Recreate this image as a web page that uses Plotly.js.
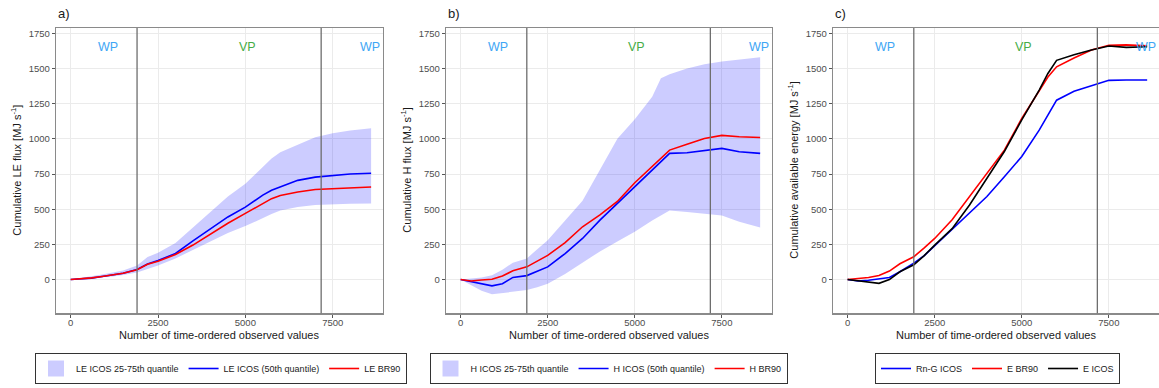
<!DOCTYPE html>
<html>
<head>
<meta charset="utf-8">
<script src="https://cdn.plot.ly/plotly-3.0.1.min.js"></script>
<style>html,body{margin:0;padding:0;background:#fff;}#chart{width:1159px;height:388px;}</style>
</head>
<body>
<div id="chart"></div>
<script>
// ---------------- DATA ----------------
const xObs = [0, 300, 600, 900, 1200, 1500, 1900, 2200, 2500, 3000, 3500, 4000, 4500, 5000, 5500, 5750, 6000, 6500, 7000, 7500, 8000, 8600];

// Panel a: LE
const leQ25 = [0, 5, 10, 14, 22, 32, 50, 75, 100, 150, 210, 270, 330, 380, 440, 465, 490, 515, 530, 535, 538, 540];
const leQ75 = [0, 10, 20, 35, 50, 65, 100, 160, 190, 260, 370, 480, 590, 680, 800, 860, 905, 960, 1012, 1040, 1060, 1075];
const leQ50 = [0, 5, 10, 22, 32, 45, 72, 110, 135, 185, 275, 360, 445, 515, 600, 635, 660, 705, 728, 737, 750, 755];
const leBR90 = [0, 5, 12, 22, 32, 45, 70, 108, 130, 178, 245, 325, 400, 470, 540, 575, 598, 622, 640, 645, 650, 658];

// Panel b: H
const hQ25 = [0, -40, -80, -105, -95, -85, -75, -55, -30, 40, 120, 200, 270, 340, 420, 455, 490, 480, 465, 455, 410, 370];
const hQ75 = [0, 5, 15, 30, 70, 120, 150, 215, 280, 420, 560, 780, 1000, 1140, 1300, 1430, 1460, 1500, 1530, 1550, 1565, 1580];
const hQ50 = [0, -15, -30, -45, -30, 15, 28, 60, 90, 185, 292, 422, 540, 660, 778, 840, 897, 901, 915, 932, 908, 897];
const hBR90 = [0, -10, -3, 2, 25, 62, 90, 130, 172, 262, 375, 460, 555, 688, 802, 860, 920, 962, 1003, 1025, 1015, 1010];

// Panel c: available energy
const rnG = [0, -10, -5, 5, 15, 55, 117, 170, 240, 352, 472, 590, 730, 875, 1062, 1170, 1275, 1338, 1378, 1416, 1418, 1418];
const eBR90 = [0, 5, 15, 28, 60, 112, 162, 225, 292, 425, 592, 756, 920, 1145, 1340, 1440, 1512, 1575, 1632, 1665, 1668, 1662];
const eICOS = [0, -10, -20, -27, 0, 55, 105, 170, 245, 362, 530, 720, 910, 1135, 1347, 1465, 1558, 1598, 1632, 1660, 1650, 1655];

// Period boundaries and labels
const periodBounds = [1900, 7170];
const periodLabels = ["WP", "VP", "WP"];
const periodLabelX = [1070, 5050, 8580];
const periodLabelY = 1650;

const xTicks = [0, 2500, 5000, 7500];
const yTicks = [0, 250, 500, 750, 1000, 1250, 1500, 1750];
const panelTitles = ["a)", "b)", "c)"];
const yTitles = ["Cumulative LE flux [MJ s<sup>-1</sup>]", "Cumulative H flux [MJ s<sup>-1</sup>]", "Cumulative available energy [MJ s<sup>-1</sup>]"];
const xTitle = "Number of time-ordered observed values";

// ---------------- LAYOUT ----------------
const W = 1159, H = 388;
const FONT = "Liberation Sans, Arial, sans-serif";
const panels = [
  {l: 56, r: 383},
  {l: 446, r: 772},
  {l: 833, r: 1159}
];
const pTop = 28, pBot = 313.3;
const ribbonColor = "rgba(0,0,255,0.2)";
const WPcol = "#3ea6f5", VPcol = "#46ad46";

const traces = [];
function ribbon(lo, hi, name, xa, ya, lg) {
  traces.push({x: xObs, y: lo, xaxis: xa, yaxis: ya, mode: "lines", line: {width: 0, color: ribbonColor},
               showlegend: false, hoverinfo: "skip", legend: lg});
  traces.push({x: xObs, y: hi, xaxis: xa, yaxis: ya, mode: "lines", line: {width: 0, color: ribbonColor},
               fill: "tonexty", fillcolor: ribbonColor, showlegend: false, legend: lg});
  // legend key only (square swatch like ggplot ribbon key)
  traces.push({x: [null], y: [null], xaxis: xa, yaxis: ya, mode: "markers",
               marker: {symbol: "square", size: 16, color: ribbonColor, line: {width: 0}},
               name: name, legend: lg});
}
function line(y, name, color, xa, ya, lg) {
  traces.push({x: xObs, y: y, xaxis: xa, yaxis: ya, mode: "lines", line: {width: 1.6, color: color},
               name: name, legend: lg});
}
ribbon(leQ25, leQ75, "LE ICOS 25-75th quantile", "x", "y", "legend");
line(leQ50, "LE ICOS (50th quantile)", "#0000ff", "x", "y", "legend");
line(leBR90, "LE BR90", "#ff0000", "x", "y", "legend");
ribbon(hQ25, hQ75, "H ICOS 25-75th quantile", "x2", "y2", "legend2");
line(hQ50, "H ICOS (50th quantile)", "#0000ff", "x2", "y2", "legend2");
line(hBR90, "H BR90", "#ff0000", "x2", "y2", "legend2");
line(rnG, "Rn-G ICOS", "#0000ff", "x3", "y3", "legend3");
line(eBR90, "E BR90", "#ff0000", "x3", "y3", "legend3");
line(eICOS, "E ICOS", "#000000", "x3", "y3", "legend3");

const layout = {
  width: W, height: H,
  margin: {l: 0, r: 0, t: 0, b: 0},
  paper_bgcolor: "#fff", plot_bgcolor: "#fff",
  font: {family: FONT, size: 10, color: "#1a1a1a"},
  shapes: [], annotations: []
};

const yDomain = [1 - pBot / H, 1 - pTop / H];
panels.forEach((p, i) => {
  const sfx = i === 0 ? "" : String(i + 1);
  const xa = "xaxis" + sfx, ya = "yaxis" + sfx;
  const xref = "x" + sfx, yref = "y" + sfx;
  layout[xa] = {
    domain: [p.l / W, Math.min(p.r / W, 1)], range: [-420, 8940], anchor: yref,
    tickvals: xTicks, ticktext: xTicks.map(String), ticks: "outside", ticklen: 3, tickcolor: "#555",
    tickfont: {size: 9.5, color: "#4d4d4d", family: FONT}, ticklabelstandoff: -3,
    showgrid: true, gridcolor: "#ebebeb", gridwidth: 1, zeroline: false,
    showline: true, mirror: true, linecolor: "#8a8a8a", linewidth: 1.2, fixedrange: true
  };
  layout[ya] = {
    domain: yDomain, range: [-240, 1788], anchor: xref,
    tickvals: yTicks, ticktext: yTicks.map(String), ticks: "outside", ticklen: 3, tickcolor: "#555",
    tickfont: {size: 9.5, color: "#4d4d4d", family: FONT},
    showgrid: true, gridcolor: "#ebebeb", gridwidth: 1, zeroline: false,
    showline: true, mirror: true, linecolor: "#8a8a8a", linewidth: 1.2, fixedrange: true
  };
  periodBounds.forEach(b => {
    layout.shapes.push({type: "line", xref: xref, yref: yref + " domain", x0: b, x1: b, y0: 0, y1: 1,
                        line: {color: "#6e6e6e", width: 1.3}, layer: "above"});
  });
  periodLabels.forEach((t, k) => {
    layout.annotations.push({text: t, x: periodLabelX[k], y: periodLabelY, xref: xref, yref: yref,
      showarrow: false, font: {size: 12.5, color: t === "WP" ? WPcol : VPcol, family: FONT}});
  });
  layout.annotations.push({text: panelTitles[i], xref: "paper", yref: "paper", x: p.l / W, y: 1 - 14 / H,
    xanchor: "left", yanchor: "middle", showarrow: false, font: {size: 13, color: "#1a1a1a", family: FONT}});
  layout.annotations.push({text: yTitles[i], xref: "paper", yref: "paper", x: (p.l - 40) / W, y: 1 - ((pTop + pBot) / 2) / H,
    xanchor: "center", yanchor: "middle", textangle: -90, showarrow: false, font: {size: 11, color: "#1a1a1a", family: FONT}});
  layout.annotations.push({text: xTitle, xref: "paper", yref: "paper", x: ((p.l + Math.min(p.r, 1159)) / 2) / W, y: 1 - 335 / H,
    xanchor: "center", yanchor: "middle", showarrow: false, font: {size: 11, color: "#1a1a1a", family: FONT}});
});

const legendCenters = [221, 608.5, 997.5];
["legend", "legend2", "legend3"].forEach((lg, i) => {
  layout[lg] = {
    orientation: "h", traceorder: "normal", x: legendCenters[i] / W, y: 1 - 353 / H, xanchor: "center", yanchor: "top",
    xref: "paper", yref: "paper",
    bordercolor: "#333", borderwidth: 1, bgcolor: "#fff",
    font: {size: 9, color: "#1a1a1a", family: FONT}, itemwidth: 30, tracegroupgap: 0
  };
});

Plotly.newPlot("chart", traces, layout, {staticPlot: true, displayModeBar: false});
</script>
</body>
</html>
